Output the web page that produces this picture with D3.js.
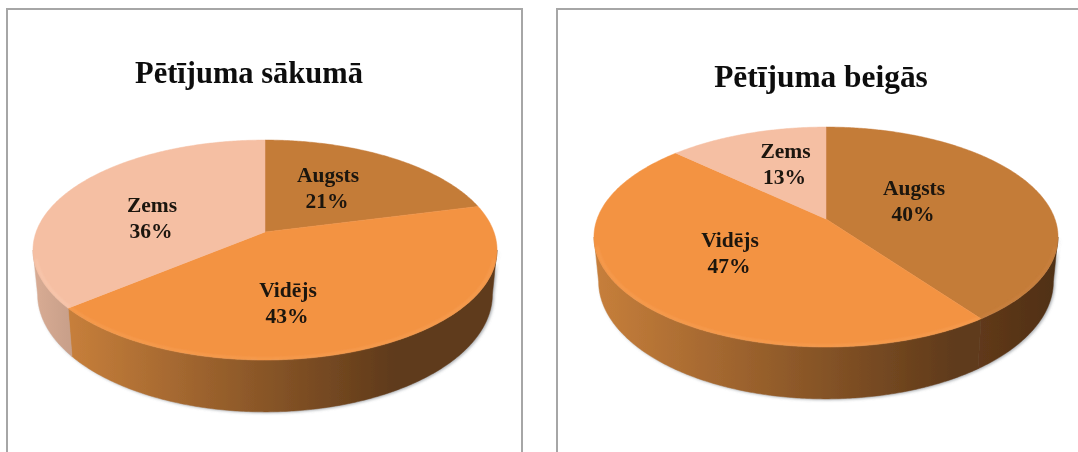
<!DOCTYPE html>
<html><head><meta charset="utf-8">
<script src="https://cdn.jsdelivr.net/npm/d3@7/dist/d3.min.js"></script>
<style>html,body{margin:0;padding:0;background:#fff;overflow:hidden}svg{display:block}</style>
</head><body><div id="c"></div>
<script>
const categories = ["Augsts","Vidējs","Zems"];
const valuesStart = [21,43,36];
const valuesEnd = [40,47,13];
const titles = ["Pētījuma sākumā","Pētījuma beigās"];

const W=1078,H=452;
const topColors=["#c47b38","#f39343","#f5bfa3"];
const rimColors=["#d08a48","#fbab62","#fbd2bc"];
const sideStops=[["#60391a","#4f2f12"],["#c77f3b","#5f3a1a"],["#d9ac94","#c9a08a"]];
const K=0.1636, RX=228.9, RY=107, DEPTH=43, SHRINK_X=0.98, SHRINK_Y=1.07;
const TANGENT=Math.PI-Math.asin(Math.sqrt(1-K*K)); // angle of the silhouette's right extreme

const panels=[
 {values:valuesStart,title:titles[0],titleSize:30.5,titleX:249,titleY:83,cx:265,cy:232,frame:[7,9,515,460],
  labels:[[328,182],[288,297],[152,212]]},
 {values:valuesEnd,title:titles[1],titleSize:31.4,titleX:821,titleY:87,cx:826,cy:219,frame:[557,9,540,460],
  labels:[[914,195],[730,247],[785.5,158]]}
];

const svg=d3.select("#c").append("svg").attr("width",W).attr("height",H);
const defs=svg.append("defs");
const blur=(id,sd)=>defs.append("filter").attr("id",id).attr("x","-5%").attr("y","-10%").attr("width","110%").attr("height","120%")
  .append("feGaussianBlur").attr("stdDeviation",sd);
blur("soft",0.45); blur("shadow",1.8); blur("rim",0.8); blur("txt",0.3);

const pie=d3.pie().sort(null).value(d=>d).startAngle(0).endAngle(2*Math.PI);
const line=d3.line().curve(d3.curveLinear);

panels.forEach((p,pi)=>{
  const g=svg.append("g");
  g.append("rect").attr("x",p.frame[0]).attr("y",p.frame[1]).attr("width",p.frame[2]).attr("height",p.frame[3])
    .attr("fill","#fff").attr("stroke","#a6a6a6").attr("stroke-width",2);
  g.append("text").attr("x",p.titleX).attr("y",p.titleY).attr("text-anchor","middle")
    .attr("font-family","'Liberation Serif',serif").attr("font-weight","bold").attr("font-size",p.titleSize)
    .attr("fill","#111").attr("filter","url(#txt)").text(p.title);

  const project=(a,sx,sy,off)=>{
    const u=Math.sin(a),v=-Math.cos(a),s=1/(1-K*v);
    return [p.cx+RX*sx*u*s, p.cy+off+RY*sy*v*s];
  };
  const arcPts=(a0,a1,sx,sy,off)=>{
    const n=Math.max(2,Math.ceil((a1-a0)/0.01));
    return d3.range(n+1).map(i=>project(a0+(a1-a0)*i/n,sx,sy,off));
  };
  const topArc=(a0,a1)=>arcPts(a0,a1,1,1,0);
  const baseArc=(a0,a1)=>arcPts(a0,a1,SHRINK_X,SHRINK_Y,DEPTH);
  const arcs=pie(p.values);
  const pies=g.append("g").attr("filter","url(#soft)");

  // soft shadow following the wall's outline
  const lo=TANGENT, hi=2*Math.PI-TANGENT;
  const outline=topArc(lo,hi).concat(baseArc(lo,hi).reverse());
  pies.append("path").attr("d",line(outline)+"Z").attr("fill","#8d9298").attr("opacity",0.75)
    .attr("transform","translate(1.5,1)").attr("filter","url(#shadow)");

  // side wall: only the visible front span of each slice
  arcs.forEach((d,i)=>{
    const a0=Math.max(d.startAngle,lo), a1=Math.min(d.endAngle,hi);
    if(a1<=a0) return;
    const id=`side${pi}_${i}`;
    const xs=topArc(a0,a1).map(q=>q[0]);
    const x1=d3.min(xs), x2=i===1?p.cx+130:d3.max(xs);
    const gr=defs.append("linearGradient").attr("id",id).attr("gradientUnits","userSpaceOnUse")
      .attr("x1",x1).attr("x2",x2).attr("y1",0).attr("y2",0);
    gr.append("stop").attr("offset",0).attr("stop-color",sideStops[i][0]);
    gr.append("stop").attr("offset",1).attr("stop-color",sideStops[i][1]);
    const pts=topArc(a0,a1).concat(baseArc(a0,a1).reverse());
    pies.append("path").attr("d",line(pts)+"Z").attr("fill",`url(#${id})`)
      .attr("stroke",`url(#${id})`).attr("stroke-width",0.5);
  });

  // top face
  arcs.forEach((d,i)=>{
    const pts=[[p.cx,p.cy]].concat(topArc(d.startAngle,d.endAngle));
    pies.append("path").attr("d",line(pts)+"Z").attr("fill",topColors[i])
      .attr("stroke",topColors[i]).attr("stroke-width",0.5);
  });
  // bevel highlight along the front rim
  arcs.forEach((d,i)=>{
    const a0=Math.max(d.startAngle,Math.PI*0.58), a1=Math.min(d.endAngle,Math.PI*1.42);
    if(a1<=a0) return;
    pies.append("path").attr("d",line(arcPts(a0,a1,0.99,0.99,0))).attr("fill","none").attr("opacity",0.6)
      .attr("stroke",rimColors[i]).attr("stroke-width",1.4).attr("filter","url(#rim)");
  });

  // labels
  const labels=g.append("g").attr("font-family","'Liberation Serif',serif").attr("font-weight","bold")
    .attr("font-size",21.5).attr("fill","#1a1410").attr("text-anchor","middle").attr("filter","url(#txt)");
  arcs.forEach((d,i)=>{
    const [x,y]=p.labels[i];
    labels.append("text").attr("x",x).attr("y",y).text(categories[i]);
    labels.append("text").attr("x",x-1).attr("y",y+25.5).text(d3.format(".0f")(d.value)+"%");
  });
});
</script></body></html>
